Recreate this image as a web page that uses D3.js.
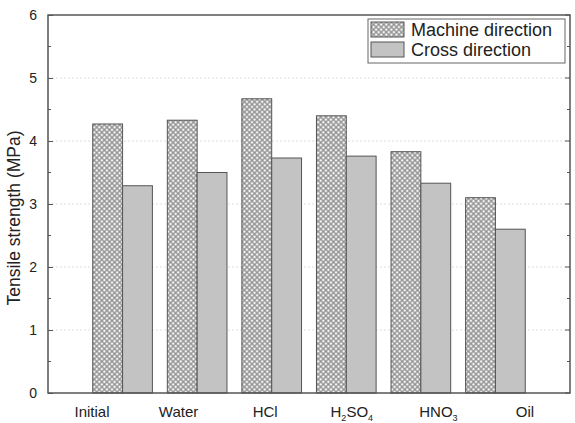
<!DOCTYPE html>
<html>
<head>
<meta charset="utf-8">
<style>
body { margin: 0; background: #fff; }
text { font-family: "Liberation Sans", Arial, sans-serif; fill: #222; }
.tick text { font-size: 14px; }
</style>
<script src="https://d3js.org/d3.v7.min.js"></script>
</head>
<body>
<script>

var categories = ["Initial", "Water", "HCl", "H2SO4", "HNO3", "Oil"];
var machine = [4.27, 4.33, 4.67, 4.40, 3.83, 3.10];
var cross   = [3.29, 3.50, 3.73, 3.76, 3.33, 2.60];
var yTicks  = [0, 1, 2, 3, 4, 5, 6];

var width = 575, height = 423;
var plotL = 48, plotR = 570, plotT = 15, plotB = 393;

var svg = d3.select("body").append("svg")
    .attr("width", width)
    .attr("height", height);

var defs = svg.append("defs");
var pat = defs.append("pattern")
    .attr("id", "hatch")
    .attr("patternUnits", "userSpaceOnUse")
    .attr("width", 3.6).attr("height", 3.6)
    .attr("patternTransform", "rotate(45)");
pat.append("rect").attr("width", 3.6).attr("height", 3.6).attr("fill", "#8a8a8a");
pat.append("rect").attr("x", 0.6).attr("y", 0.6).attr("width", 2.4).attr("height", 2.4).attr("fill", "#f4f4f4");

var x = d3.scalePoint().domain(categories).range([plotL, plotR]).padding(1);
var labelX = d3.scalePoint().domain(categories).range([92, 525]);
var y = d3.scaleLinear().domain([0, 6]).range([plotB, plotT]);
var barW = x.step() * 0.4;

// dotted grid
svg.append("g").selectAll("line")
  .data(yTicks.slice(1, -1))
  .enter().append("line")
  .attr("x1", plotL).attr("x2", plotR)
  .attr("y1", function(d) { return y(d); })
  .attr("y2", function(d) { return y(d); })
  .attr("stroke", "#d6d6d6")
  .attr("stroke-width", 0.8)
  .attr("stroke-dasharray", "2,2");

// bars
var g = svg.append("g").selectAll("g")
  .data(categories)
  .enter().append("g");

g.append("rect")
  .attr("x", function(d) { return x(d) - barW; })
  .attr("y", function(d, i) { return y(machine[i]); })
  .attr("width", barW)
  .attr("height", function(d, i) { return y(0) - y(machine[i]); })
  .attr("fill", "url(#hatch)")
  .attr("stroke", "#555")
  .attr("stroke-width", 1);

g.append("rect")
  .attr("x", function(d) { return x(d); })
  .attr("y", function(d, i) { return y(cross[i]); })
  .attr("width", barW)
  .attr("height", function(d, i) { return y(0) - y(cross[i]); })
  .attr("fill", "#c3c3c3")
  .attr("stroke", "#555")
  .attr("stroke-width", 1);

// frame
svg.append("rect")
  .attr("x", plotL).attr("y", plotT)
  .attr("width", plotR - plotL).attr("height", plotB - plotT)
  .attr("fill", "none")
  .attr("stroke", "#555")
  .attr("stroke-width", 1.5);

// y axis, ticks inward on both sides
var yAxis = svg.append("g")
  .attr("transform", "translate(" + plotL + ",0)")
  .call(d3.axisLeft(y).tickValues(yTicks).tickSize(-5).tickPadding(11).tickFormat(d3.format("d")));
yAxis.select(".domain").remove();
yAxis.selectAll("line").attr("stroke", "#555");

var minor = d3.range(0.5, 6, 1);
svg.append("g").selectAll("line").data(minor).enter().append("line")
  .attr("x1", plotL).attr("x2", plotL + 3)
  .attr("y1", function(d) { return y(d); }).attr("y2", function(d) { return y(d); })
  .attr("stroke", "#555");
svg.append("g").selectAll("line").data(yTicks.concat(minor)).enter().append("line")
  .attr("x1", plotR).attr("x2", function(d) { return plotR - (d % 1 ? 3 : 5); })
  .attr("y1", function(d) { return y(d); }).attr("y2", function(d) { return y(d); })
  .attr("stroke", "#555");

// x labels
var subs = { "H2SO4": ["H", "2", "SO", "4"], "HNO3": ["HNO", "3"] };
var xl = svg.append("g").selectAll("text")
  .data(categories)
  .enter().append("text")
  .attr("x", function(d) { return labelX(d); })
  .attr("y", 417)
  .attr("text-anchor", "middle")
  .style("font-size", "15px");
xl.each(function(d) {
  var t = d3.select(this);
  var parts = subs[d];
  if (!parts) { t.text(d); return; }
  parts.forEach(function(p, i) {
    var s = t.append("tspan").text(p);
    if (i % 2 == 1) {
      s.attr("dy", 4).style("font-size", "9px");
    } else if (i > 0) {
      s.attr("dy", -4);
    }
  });
});

// y title
svg.append("text")
  .attr("transform", "translate(14,218) rotate(-90)")
  .attr("text-anchor", "middle")
  .attr("dy", "0.35em")
  .style("font-size", "17.5px")
  .text("Tensile strength (MPa)");

// legend
var legend = svg.append("g");
legend.append("rect")
  .attr("x", 368).attr("y", 19).attr("width", 197).attr("height", 44)
  .attr("fill", "#fff").attr("stroke", "#666").attr("stroke-width", 1);
var items = [["Machine direction", "url(#hatch)"], ["Cross direction", "#c3c3c3"]];
var li = legend.selectAll("g.item").data(items).enter().append("g")
  .attr("transform", function(d, i) { return "translate(371," + (22 + i * 20) + ")"; });
li.append("rect")
  .attr("width", 33).attr("height", 15)
  .attr("fill", function(d) { return d[1]; })
  .attr("stroke", "#555");
li.append("text")
  .attr("x", 40).attr("y", 14)
  .style("font-size", "18px")
  .text(function(d) { return d[0]; });

</script>
</body>
</html>
